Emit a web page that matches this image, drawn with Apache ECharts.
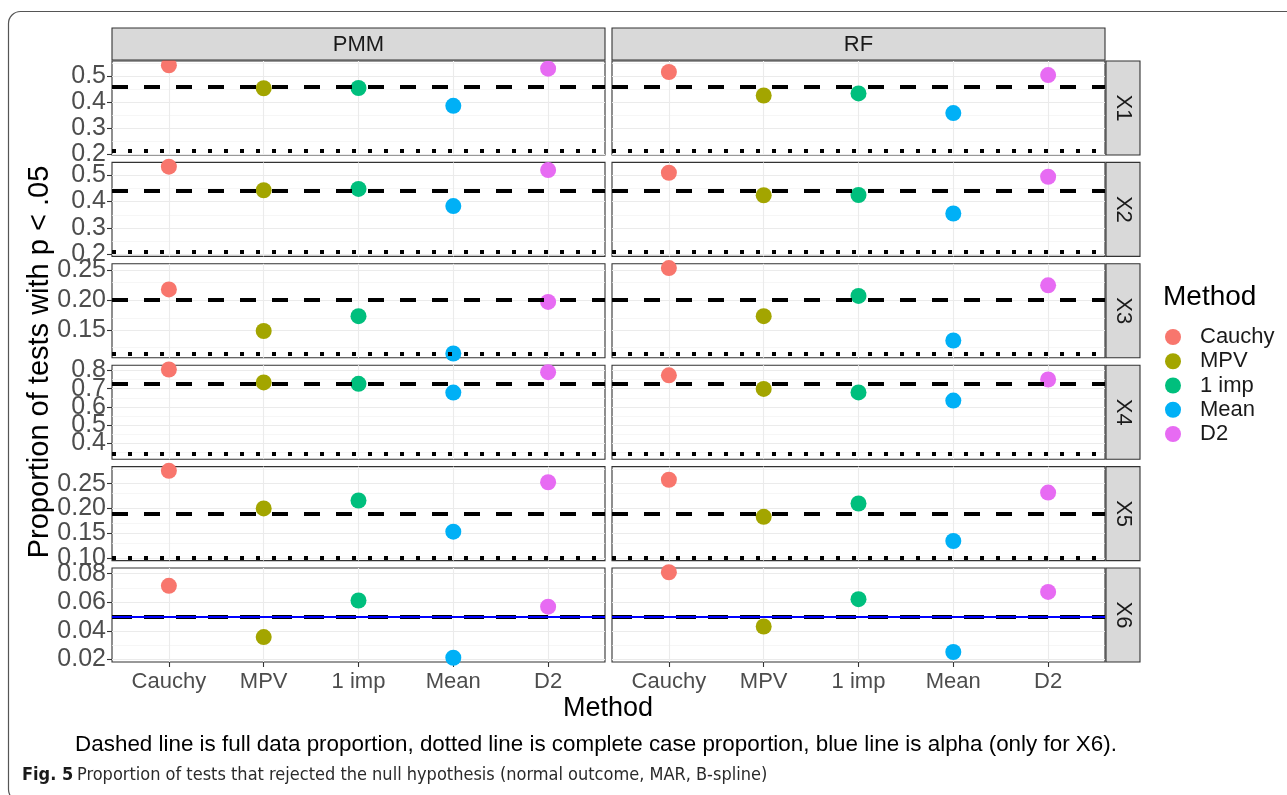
<!DOCTYPE html>
<html>
<head>
<meta charset="utf-8">
<script src="https://cdn.jsdelivr.net/npm/echarts@6/dist/echarts.min.js"></script>
<style>
html,body{margin:0;padding:0;background:#fff;}
#chart{width:1287px;height:795px;}
</style>
</head>
<body>
<div id="chart"></div>
<script>
// ---------- data ----------
const methods = ['Cauchy', 'MPV', '1 imp', 'Mean', 'D2'];
const methodColors = ['#F8766D', '#A3A500', '#00BF7D', '#00B0F6', '#E76BF3'];
const facetCols = ['PMM', 'RF'];
const facetRows = ['X1', 'X2', 'X3', 'X4', 'X5', 'X6'];

const pmmX1 = [0.543, 0.454, 0.455, 0.386, 0.530];
const pmmX2 = [0.532, 0.443, 0.448, 0.383, 0.519];
const pmmX3 = [0.218, 0.148, 0.173, 0.110, 0.197];
const pmmX4 = [0.806, 0.735, 0.727, 0.679, 0.791];
const pmmX5 = [0.276, 0.200, 0.216, 0.153, 0.253];
const pmmX6 = [0.0715, 0.0357, 0.0613, 0.0213, 0.0570];

const rfX1 = [0.517, 0.426, 0.434, 0.358, 0.505];
const rfX2 = [0.509, 0.424, 0.425, 0.355, 0.494];
const rfX3 = [0.254, 0.173, 0.207, 0.132, 0.225];
const rfX4 = [0.774, 0.699, 0.680, 0.635, 0.751];
const rfX5 = [0.258, 0.183, 0.210, 0.134, 0.232];
const rfX6 = [0.0810, 0.0431, 0.0622, 0.0253, 0.0673];

const fullDataProp = [0.457, 0.442, 0.200, 0.727, 0.194, 0.0472];
const completeCaseProp = [0.212, 0.209, 0.111, 0.336, 0.103, 0.0516];
const alphaLine = [null, null, null, null, null, 0.05];

const ticksX1 = [0.2, 0.3, 0.4, 0.5];
const ticksX2 = [0.2, 0.3, 0.4, 0.5];
const ticksX3 = [0.15, 0.20, 0.25];
const ticksX4 = [0.4, 0.5, 0.6, 0.7, 0.8];
const ticksX5 = [0.10, 0.15, 0.20, 0.25];
const ticksX6 = [0.02, 0.04, 0.06, 0.08];
const tickDecimals = [1, 1, 2, 1, 2, 2];

const captionText = 'Dashed line is full data proportion, dotted line is complete case proportion, blue line is alpha (only for X6).';
const figLabel = 'Fig. 5';
const figText = 'Proportion of tests that rejected the null hypothesis (normal outcome, MAR, B-spline)';

// ---------- layout ----------
const pmmRows = [pmmX1, pmmX2, pmmX3, pmmX4, pmmX5, pmmX6];
const rfRows = [rfX1, rfX2, rfX3, rfX4, rfX5, rfX6];
const tickRows = [ticksX1, ticksX2, ticksX3, ticksX4, ticksX5, ticksX6];
const colLeft = [112, 612];
const panelW = 493;
const rowTop0 = 61;
const rowStep = 101.4;
const panelH = 94;
const stripTop = 28, stripH = 32;
const stripRightX = 1106, stripRightW = 34;
const FONT = '"Liberation Sans", Arial, sans-serif';
const NARROW = '"Liberation Sans Narrow", "DejaVu Sans Condensed", sans-serif';

const grids = [], xAxes = [], yAxes = [], series = [], graphics = [];

function makeYAxis(gi, yMin, yMax, vals, show, dec) {
  return {
    type: 'value', gridIndex: gi, min: yMin, max: yMax, position: 'left', offset: 0,
    axisLine: { show: false }, splitLine: { show: false },
    axisTick: { show: show, customValues: vals, length: 5, lineStyle: { color: '#333333', width: 1.1 } },
    axisLabel: {
      show: show, customValues: vals, margin: 6, interval: 0,
      showMinLabel: true, showMaxLabel: true, hideOverlap: false,
      color: '#4D4D4D', fontSize: 25, fontFamily: FONT,
      formatter: function (v) { return v.toFixed(dec); }
    }
  };
}

for (let r = 0; r < facetRows.length; r++) {
  const vals = pmmRows[r].concat(rfRows[r], [fullDataProp[r], completeCaseProp[r]]);
  if (alphaLine[r] != null) vals.push(alphaLine[r]);
  const lo = Math.min.apply(null, vals), hi = Math.max.apply(null, vals);
  const pad = 0.05 * (hi - lo);
  const yMin = lo - pad, yMax = hi + pad;
  const ticks = tickRows[r];
  const step = ticks[1] - ticks[0];
  const minors = [];
  for (let k = -1; k < ticks.length; k++) {
    const m = (k < 0 ? ticks[0] - step / 2 : ticks[k] + step / 2);
    if (m > yMin && m < yMax) minors.push(m);
  }
  const dec = tickDecimals[r];
  // split tick labels over two coincident axes so none is auto-hidden
  const ticksA = ticks.filter(function (t, i) { return i % 2 === 0; });
  const ticksB = ticks.filter(function (t, i) { return i % 2 === 1; });

  for (let c = 0; c < facetCols.length; c++) {
    const gi = grids.length;
    const top = rowTop0 + r * rowStep;
    grids.push({
      left: colLeft[c], top: top, width: panelW, height: panelH,
      show: true, backgroundColor: '#ffffff', borderColor: '#333333', borderWidth: 1.1,
      containLabel: false
    });
    const bottomRow = (r === facetRows.length - 1);
    xAxes.push({
      type: 'value', gridIndex: gi, min: 0.4, max: 5.6,
      axisLine: { show: false }, splitLine: { show: false },
      axisTick: { show: bottomRow, customValues: [1, 2, 3, 4, 5], length: 5, lineStyle: { color: '#333333', width: 1.1 } },
      axisLabel: {
        show: bottomRow, customValues: [1, 2, 3, 4, 5], margin: 9, interval: 0,
        showMinLabel: true, showMaxLabel: true, hideOverlap: false,
        color: '#4D4D4D', fontSize: 22, fontFamily: FONT,
        formatter: function (v) { return methods[Math.round(v) - 1]; }
      }
    });
    const yi = yAxes.length;
    yAxes.push(makeYAxis(gi, yMin, yMax, ticksA, c === 0, dec));
    yAxes.push(makeYAxis(gi, yMin, yMax, ticksB, c === 0, dec));

    // grid lines
    const gl = [];
    ticks.forEach(function (t) { if (t >= yMin && t <= yMax) gl.push({ yAxis: t, lineStyle: { color: '#EBEBEB', width: 1.1, type: 'solid' } }); });
    minors.forEach(function (m) { gl.push({ yAxis: m, lineStyle: { color: '#F2F2F2', width: 0.7, type: 'solid' } }); });
    for (let k = 1; k <= methods.length; k++) gl.push({ xAxis: k, lineStyle: { color: '#EBEBEB', width: 1.1, type: 'solid' } });
    series.push({
      type: 'line', xAxisIndex: gi, yAxisIndex: yi, data: [], silent: true,
      markLine: { z: 1, silent: true, symbol: 'none', label: { show: false }, animation: false, data: gl }
    });

    // points
    const rowVals = (c === 0 ? pmmRows[r] : rfRows[r]);
    methods.forEach(function (m, i) {
      series.push({
        type: 'scatter', name: m, xAxisIndex: gi, yAxisIndex: yi, z: 3,
        symbol: 'circle', symbolSize: 16,
        itemStyle: { color: methodColors[i], opacity: 1 },
        data: [[i + 1, rowVals[i]]]
      });
    });

    // reference lines
    const hl = [
      { yAxis: fullDataProp[r], lineStyle: { color: '#000000', width: 4, type: [16, 16] } },
      { yAxis: completeCaseProp[r], lineStyle: { color: '#000000', width: 4, type: [4, 12] } }
    ];
    if (alphaLine[r] != null) hl.push({ yAxis: alphaLine[r], lineStyle: { color: '#0000FF', width: 2, type: 'solid' } });
    series.push({
      type: 'line', xAxisIndex: gi, yAxisIndex: yi, data: [], silent: true,
      markLine: { z: 6, silent: true, symbol: 'none', label: { show: false }, animation: false, data: hl }
    });
  }

  // right strip
  const top = rowTop0 + r * rowStep;
  graphics.push({
    type: 'rect', shape: { x: stripRightX, y: top, width: stripRightW, height: panelH },
    style: { fill: '#D9D9D9', stroke: '#333333', lineWidth: 1.1 }, z: 10
  });
  graphics.push({
    type: 'text', x: stripRightX + stripRightW / 2, y: top + panelH / 2, rotation: -Math.PI / 2,
    style: { text: facetRows[r], fill: '#1A1A1A', font: '22px ' + FONT, textAlign: 'center', textVerticalAlign: 'middle' }, z: 11
  });
}

// top strips
facetCols.forEach(function (name, c) {
  graphics.push({
    type: 'rect', shape: { x: colLeft[c], y: stripTop, width: panelW, height: stripH },
    style: { fill: '#D9D9D9', stroke: '#333333', lineWidth: 1.1 }, z: 10
  });
  graphics.push({
    type: 'text', x: colLeft[c] + panelW / 2, y: stripTop + stripH / 2 + 1,
    style: { text: name, fill: '#1A1A1A', font: '22px ' + FONT, textAlign: 'center', textVerticalAlign: 'middle' }, z: 11
  });
});

// axis titles, legend title, captions, frame
graphics.push({
  type: 'text', x: 608, y: 709,
  style: { text: 'Method', fill: '#000000', font: '27px ' + FONT, textAlign: 'center', textVerticalAlign: 'middle' }, z: 11
});
graphics.push({
  type: 'text', x: 40, y: 362, rotation: Math.PI / 2,
  style: { text: 'Proportion of tests with p < .05', fill: '#000000', font: '29px ' + FONT, textAlign: 'center', textVerticalAlign: 'middle' }, z: 11
});
graphics.push({
  type: 'text', x: 1163, y: 297,
  style: { text: 'Method', fill: '#000000', font: '28px ' + FONT, textAlign: 'left', textVerticalAlign: 'middle' }, z: 11
});
graphics.push({
  type: 'text', x: 596, y: 745,
  style: { text: captionText, fill: '#000000', font: '22.4px ' + FONT, textAlign: 'center', textVerticalAlign: 'middle' }, z: 11
});
graphics.push({
  type: 'text', x: 22, y: 775,
  style: { text: figLabel, fill: '#1a1a1a', font: 'bold 18px ' + NARROW, textAlign: 'left', textVerticalAlign: 'middle' }, z: 11
});
graphics.push({
  type: 'text', x: 77, y: 775,
  style: { text: figText, fill: '#2a2a2a', font: '18px ' + NARROW, textAlign: 'left', textVerticalAlign: 'middle' }, z: 11
});
graphics.push({
  type: 'rect', shape: { x: 8.5, y: 11.5, width: 1320, height: 790, r: 12 },
  style: { fill: 'none', stroke: '#555555', lineWidth: 1.2 }, z: 0
});

const chart = echarts.init(document.getElementById('chart'), null, { renderer: 'canvas' });
chart.setOption({
  animation: false,
  backgroundColor: '#ffffff',
  grid: grids,
  xAxis: xAxes,
  yAxis: yAxes,
  legend: {
    data: methods, orient: 'vertical', left: 1165, top: 326, padding: 0,
    itemWidth: 16, itemHeight: 16, itemGap: 2.25, icon: 'circle', selectedMode: false,
    textStyle: { fontSize: 22, lineHeight: 16, color: '#1A1A1A', fontFamily: FONT, padding: [0, 0, 0, 14] }
  },
  series: series,
  graphic: graphics
});
</script>
</body>
</html>
